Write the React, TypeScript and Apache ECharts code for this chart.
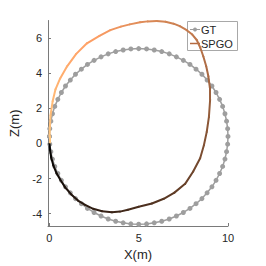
import React, { useEffect, useRef } from "react";
import * as echarts from "echarts";

const gtX = [
  0, 0.02, 0.08, 0.17, 0.3, 0.47, 0.67, 0.9, 1.17, 1.46, 1.79, 2.13, 2.5, 2.89, 3.29, 3.71, 4.13, 4.56,
  5, 5.44, 5.87, 6.29, 6.71, 7.11, 7.5, 7.87, 8.21, 8.54, 8.83, 9.1, 9.33, 9.53, 9.7, 9.83, 9.92, 9.98,
  10, 9.98, 9.92, 9.83, 9.7, 9.53, 9.33, 9.1, 8.83, 8.54, 8.21, 7.87, 7.5, 7.11, 6.71, 6.29, 5.87, 5.44,
  5, 4.56, 4.13, 3.71, 3.29, 2.89, 2.5, 2.13, 1.79, 1.46, 1.17, 0.9, 0.67, 0.47, 0.3, 0.17, 0.08, 0.02,
  0,
];
const gtZ = [
  0.4, -0.04, -0.47, -0.89, -1.31, -1.71, -2.1, -2.47, -2.81, -3.14, -3.43, -3.7, -3.93, -4.13, -4.3, -4.43, -4.52, -4.58,
  -4.6, -4.58, -4.52, -4.43, -4.3, -4.13, -3.93, -3.7, -3.43, -3.14, -2.81, -2.47, -2.1, -1.71, -1.31, -0.89, -0.47, -0.04,
  0.4, 0.84, 1.27, 1.69, 2.11, 2.51, 2.9, 3.27, 3.61, 3.94, 4.23, 4.5, 4.73, 4.93, 5.1, 5.23, 5.32, 5.38,
  5.4, 5.38, 5.32, 5.23, 5.1, 4.93, 4.73, 4.5, 4.23, 3.94, 3.61, 3.27, 2.9, 2.51, 2.11, 1.69, 1.27, 0.84,
  0.4,
];

const spgoX = [
  0, 0.04, 0.1, 0.22, 0.4, 0.6, 0.88, 1.22, 1.6, 2.0, 2.45, 2.95, 3.5, 3.95, 4.4, 5.0, 5.74, 6.4, 7.0, 7.6,
  8.05, 8.44, 8.65, 8.81, 8.93, 9.0, 8.98, 8.9, 8.78, 8.62, 8.45, 8.25, 8.0, 7.69, 7.3, 6.95, 6.5, 6.0,
  5.5, 5.08, 4.5, 4.0, 3.41, 2.8, 2.1, 1.5, 0.99, 0.6, 0.34, 0.18, 0.06, 0.02, 0.01, 0,
];
const spgoZ = [
  0, -0.4, -0.8, -1.25, -1.7, -2.05, -2.5, -2.9, -3.25, -3.5, -3.72, -3.86, -3.92, -3.88, -3.77, -3.6, -3.42, -3.15, -2.8, -2.3,
  -1.6, -0.84, -0.1, 0.66, 1.5, 2.5, 3.2, 3.83, 4.4, 4.95, 5.45, 5.89, 6.2, 6.45, 6.68, 6.82, 6.93, 6.97,
  6.95, 6.9, 6.78, 6.65, 6.45, 6.12, 5.7, 5.1, 4.39, 3.7, 3.08, 2.4, 1.59, 0.9, 0.4, 0.05,
];

const xTicks = [0, 5, 10];
const zTicks = [-4, -2, 0, 2, 4, 6];
const seriesNames = ["GT", "SPGO"];

const GT_COLOR = "#9e9e9e";
const SPGO_LEGEND_COLOR = "#b56a40";

function copper(t: number): string {
  const r = Math.min(1, 1.25 * t);
  const g = 0.7812 * t;
  const b = 0.4975 * t;
  return `rgb(${Math.round(r * 255)},${Math.round(g * 255)},${Math.round(b * 255)})`;
}

export default function App() {
  const ref = useRef<HTMLDivElement>(null);
  useEffect(() => {
    const chart = echarts.init(ref.current!, null, { renderer: "svg" });
    const n = spgoX.length;
    const cum = [0];
    for (let i = 1; i < n; i++) {
      cum.push(cum[i - 1] + Math.hypot(spgoX[i] - spgoX[i - 1], spgoZ[i] - spgoZ[i - 1]));
    }
    const total = cum[n - 1];
    const segs = [];
    for (let i = 0; i < n - 1; i++) {
      segs.push({
        coords: [
          [spgoX[i], spgoZ[i]],
          [spgoX[i + 1], spgoZ[i + 1]],
        ],
        lineStyle: { color: copper((cum[i] + cum[i + 1]) / 2 / total), opacity: 1, width: 2, cap: "round" },
      });
    }
    const font = "Liberation Sans, Arial, sans-serif";
    const axisCommon = {
      type: "value",
      splitLine: { show: false },
      axisLine: { show: true, onZero: false, lineStyle: { color: "#7a7a7a", width: 1 } },
      nameLocation: "middle",
      nameTextStyle: { fontSize: 13, color: "#262626", fontFamily: font },
    };
    const lx = 187;
    const ly = 21;
    chart.setOption({
      animation: false,
      backgroundColor: "#fff",
      grid: { left: 48, top: 20.5, width: 180, height: 208.6, containLabel: false },
      xAxis: {
        ...axisCommon,
        min: -0.08,
        max: 10,
        name: "X(m)",
        nameGap: 22,
        axisTick: { show: true, inside: true, length: 3, customValues: xTicks, lineStyle: { color: "#7a7a7a" } },
        axisLabel: { customValues: xTicks, fontSize: 11, color: "#262626", fontFamily: font, margin: 6 },
      },
      yAxis: {
        ...axisCommon,
        min: -4.7,
        max: 7,
        name: "Z(m)",
        nameGap: 16,
        axisTick: { show: true, inside: true, length: 3, customValues: zTicks, lineStyle: { color: "#7a7a7a" } },
        axisLabel: { customValues: zTicks, fontSize: 11, color: "#262626", fontFamily: font, margin: 6 },
      },
      graphic: [
        {
          type: "group",
          z: 100,
          children: [
            {
              type: "rect",
              shape: { x: lx + 0.5, y: ly + 0.5, width: 50, height: 29 },
              style: { fill: "#fff", stroke: "#a8a8a8", lineWidth: 1 },
            },
            {
              type: "line",
              shape: { x1: lx + 3, y1: ly + 8.5, x2: lx + 13, y2: ly + 8.5 },
              style: { stroke: GT_COLOR, lineWidth: 1 },
            },
            {
              type: "circle",
              shape: { cx: lx + 8, cy: ly + 8.5, r: 2 },
              style: { fill: GT_COLOR },
            },
            {
              type: "text",
              x: lx + 14,
              y: ly + 9,
              style: { text: seriesNames[0], fontSize: 11, fill: "#262626", fontFamily: font, verticalAlign: "middle" },
            },
            {
              type: "line",
              shape: { x1: lx + 3, y1: ly + 22.5, x2: lx + 13, y2: ly + 22.5 },
              style: { stroke: SPGO_LEGEND_COLOR, lineWidth: 1.5 },
            },
            {
              type: "text",
              x: lx + 14,
              y: ly + 23,
              style: { text: seriesNames[1], fontSize: 11, fill: "#262626", fontFamily: font, verticalAlign: "middle" },
            },
          ],
        },
      ],
      series: [
        {
          name: seriesNames[0],
          type: "line",
          data: gtX.map((x, i) => [x, gtZ[i]]),
          symbol: "circle",
          symbolSize: 5,
          showSymbol: true,
          showAllSymbol: true,
          itemStyle: { color: GT_COLOR },
          lineStyle: { color: GT_COLOR, width: 1.5 },
          z: 2,
        },
        {
          name: seriesNames[1],
          type: "lines",
          coordinateSystem: "cartesian2d",
          polyline: false,
          data: segs,
          lineStyle: { width: 2, opacity: 1 },
          z: 3,
        },
      ],
    });
    return () => chart.dispose();
  }, []);
  return <div ref={ref} style={{ position: "fixed", left: 0, top: 0, width: 266, height: 266 }} />;
}
